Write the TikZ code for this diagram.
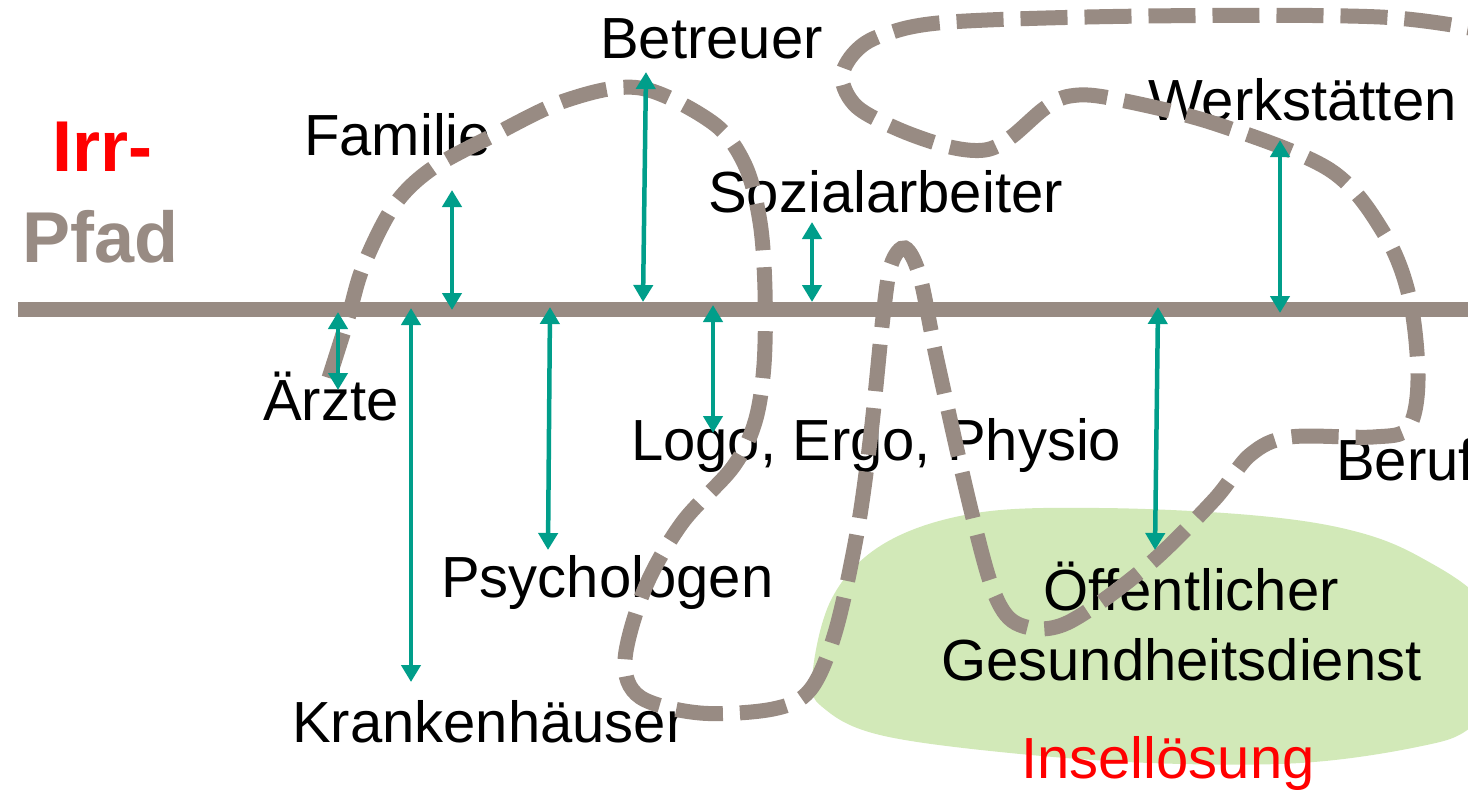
\documentclass[tikz,border=0pt]{standalone}
\usepackage{fontspec}
\setmainfont{Liberation Sans}
\usetikzlibrary{arrows.meta}
\definecolor{pathgrey}{RGB}{152,139,131}
\definecolor{teal}{RGB}{0,158,138}
\definecolor{islegreen}{RGB}{210,233,184}
\definecolor{pured}{RGB}{255,0,0}
\tikzset{
  lbl/.style={anchor=base west, inner sep=0pt, font=\fontsize{58pt}{70pt}\selectfont},
  bigl/.style={anchor=base west, inner sep=0pt, font=\fontsize{72pt}{80pt}\selectfont\bfseries},
  arr/.style={draw=teal, line width=4.5pt, {Triangle[width=19pt,length=17pt]}-{Triangle[width=19pt,length=17pt]}},
  irrpath/.style={draw=pathgrey, line width=15pt, dash pattern=on 47pt off 17pt},
  mainline/.style={draw=pathgrey, line width=15pt}
}
\begin{document}
\begin{tikzpicture}[x=1pt,y=-1pt]
\useasboundingbox (0,0) rectangle (1468,790);
\clip (0,0) rectangle (1468,790);
% island
\fill[islegreen] plot[smooth cycle, tension=0.6] coordinates {(812,680) (832,598) (885,543) (976,513) (1100,508) (1250,515) (1350,530) (1420,557) (1485,605) (1505,680) (1470,728) (1417,747) (1300,763) (1150,763) (1000,752) (880,735) (826,710)};
% texts
\node[bigl, text=pured] (irr) at (52,171) {Irr-};
\node[bigl, text=pathgrey] (pfad) at (22,262) {Pfad};
\node[lbl] (fam) at (304,155) {Familie};
\node[lbl] (betr) at (600,58) {Betreuer};
\node[lbl] (sozi) at (708,212) {Sozialarbeiter};
\node[lbl] (werk) at (1148,120) {Werkstätten};
\node[lbl] (beruf) at (1336,480) {Beruf};
\node[lbl] (aerzte) at (263,420) {Ärzte};
\node[lbl] (logo) at (631,460) {Logo, Ergo, Physio};
\node[lbl] (psy) at (441,597) {Psychologen};
\node[lbl] (kh) at (292,742) {Krankenhäuser};
\node[lbl] (oeff) at (1043,610) {Öffentlicher};
\node[lbl] (gd) at (941,680) {Gesundheitsdienst};
\node[lbl, text=pured] (insel) at (1021,778) {Insellösung};
% main line
\draw[mainline] (18,309.5) coordinate (ml0) -- (1480,309.5) coordinate (ml1);
% irr path
\draw[irrpath] plot[smooth, tension=0.55] coordinates {
 (329,378) (348,318) (363,267) (393,207) (430,170) (490,137) (567,100) (640,88)
 (713,123) (745,165) (760,222) (765,290) (764,365) (755,422) (733,467) (682,523)
 (645,588) (625,660) (640,697) (700,713) (773,709) (810,690) (835,633) (857,533)
 (871,433) (883,317) (891,265) (905,248) (920,277) (937,360) (971,510) (995,595)
 (1020,625) (1067,623) (1146,567) (1214,500) (1250,455) (1290,437) (1373,437)
 (1408,428) (1418,380) (1410,300) (1385,235) (1330,170) (1213,123) (1110,98)
 (1070,96) (1045,108) (1010,138) (985,150) (950,147) (900,130) (857,107) (842,78)
 (855,52) (883,35) (950,22) (1147,16) (1380,17) (1490,32)};
% arrows
\draw[arr] (338,312) -- (338,390);
\draw[arr] (411,308) -- (411,682);
\draw[arr] (452,190) -- (452,310);
\draw[arr] (550,307) -- (548,550);
\draw[arr] (646,72) -- (643,302);
\draw[arr] (713,305) -- (713,433);
\draw[arr] (812,222) -- (812,302);
\draw[arr] (1158,307) -- (1155,550);
\draw[arr] (1280,140) -- (1280,313);
\end{tikzpicture}
\end{document}
